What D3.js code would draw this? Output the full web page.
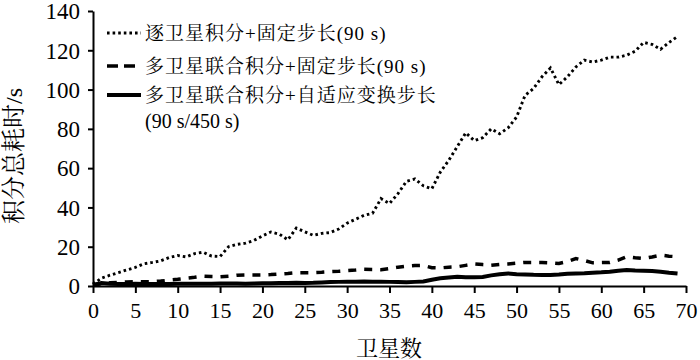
<!DOCTYPE html>
<html>
<head>
<meta charset="utf-8">
<script src="https://cdn.jsdelivr.net/npm/d3@7"></script>
<style>
  body { margin: 0; background: #fff; }
  svg { display: block; }
</style>
</head>
<body>
<svg id="chart" width="700" height="360"></svg>
<script>
// x ticks and y ticks
var xTicks = [0, 5, 10, 15, 20, 25, 30, 35, 40, 45, 50, 55, 60, 65, 70];
var yTicks = [0, 20, 40, 60, 80, 100, 120, 140];

// series values, one per satellite count 0..69
var perSat = [1, 4, 5.5, 6.8, 8.2, 9.5, 11.3, 12, 12.8, 14.5,
  15.5, 14.8, 16.5, 17.2, 15.2, 15, 20, 21.2, 21.8, 23.2,
  25.5, 27.5, 26.4, 23.5, 29.5, 27.6, 25.8, 26.8, 27.2, 29,
  32, 34, 36, 37, 44.5, 42, 47, 53.3, 54.5, 51,
  49.5, 58, 64, 71, 78, 74, 75.5, 80, 77.5, 80.5,
  86, 97, 100.5, 106.5, 111, 102.5, 106.5, 111.5, 115, 114,
  115, 116.5, 116.5, 117.5, 119.5, 124, 123, 120.5, 124, 127];

var jointFixed = [0.5, 1.2, 1.6, 1.9, 2.1, 2.2, 2.2, 2.2, 2.5, 3,
  3.4, 3.9, 4.4, 5, 4.8, 4.7, 5, 5.5, 5.6, 5.6,
  5.6, 5.8, 6.1, 6.4, 6.8, 6.8, 6.8, 7, 7.3, 7.5,
  7.8, 8.1, 8.5, 8.4, 8.3, 8.9, 9.6, 10.1, 10.4, 10.5,
  9.3, 9.2, 9.6, 9.8, 10.5, 11.2, 10.9, 10.6, 11, 11.2,
  11.6, 12, 12, 12, 11.8, 11.5, 12.5, 14, 13, 11.8,
  11.9, 12, 13.2, 14.9, 14.4, 14, 14.8, 15.7, 15.2, 14.9];

var jointAdaptive = [0.5, 1.5, 1.2, 1, 1, 1.2, 1, 1, 1, 1,
  1.2, 1.2, 1.1, 1.2, 1.2, 1.3, 1.3, 1.3, 1.2, 1.3,
  1.4, 1.4, 1.5, 1.5, 1.6, 1.5, 1.6, 1.8, 2, 2.1,
  2.2, 2.2, 2.3, 2.2, 2.2, 2.1, 2, 1.9, 2.1, 2.3,
  3.2, 3.9, 4.3, 4.7, 4.5, 4.4, 4.6, 5.4, 6, 6.4,
  6, 5.9, 5.7, 5.6, 5.6, 5.8, 6.2, 6.4, 6.5, 6.8,
  7, 7.3, 7.8, 8.1, 7.9, 7.8, 7.6, 7.3, 6.8, 6.4];

var seriesNames = ['逐卫星积分+固定步长(90 s)', '多卫星联合积分+固定步长(90 s)', '多卫星联合积分+自适应变换步长'];
var seriesNote = '(90 s/450 s)';
var xTitle = '卫星数';
var yTitle = '积分总耗时/s';

var FONT = "'Liberation Serif', 'Noto Serif CJK SC', 'Noto Sans CJK SC'";

var svg = d3.select('#chart');

var x = d3.scaleLinear().domain([0, 70]).range([93, 686]);
var y = d3.scaleLinear().domain([0, 140]).range([286, 11]);

var xAxis = svg.append('g')
  .attr('transform', 'translate(0,286)')
  .call(d3.axisBottom(x).tickValues(xTicks).tickSize(7).tickSizeOuter(0).tickPadding(9));
xAxis.selectAll('text').style('font-family', FONT).style('font-size', '22px');

var yAxis = svg.append('g')
  .attr('transform', 'translate(93,0)')
  .call(d3.axisLeft(y).tickValues(yTicks).tickSize(5).tickSizeOuter(0).tickPadding(8));
yAxis.selectAll('text').style('font-family', FONT).style('font-size', '23px').attr('dy', '0.34em');

svg.selectAll('.domain, .tick line').attr('stroke', '#000').attr('stroke-width', 2);

var styles = [
  { data: perSat, width: 2.9, dash: '2.6,3', legendDash: '2.6,3' },
  { data: jointFixed, width: 3.5, dash: '8,8', legendDash: '11,6' },
  { data: jointAdaptive, width: 4, dash: null, legendDash: null }
];

var line = d3.line()
  .x((d, i) => x(i))
  .y(d => y(d));

styles.forEach(s => {
  svg.append('path')
    .datum(s.data)
    .attr('fill', 'none')
    .attr('stroke', '#000')
    .attr('stroke-width', s.width)
    .attr('stroke-dasharray', s.dash)
    .attr('d', line);
});

// legend
var legendY = [33, 66, 95];
styles.forEach((s, i) => {
  svg.append('line')
    .attr('x1', 107).attr('x2', 141)
    .attr('y1', legendY[i]).attr('y2', legendY[i])
    .attr('stroke', '#000')
    .attr('stroke-width', s.width)
    .attr('stroke-dasharray', s.legendDash);
  svg.append('text')
    .attr('x', 145)
    .attr('y', legendY[i] + 7)
    .style('font-family', FONT)
    .style('font-size', '19px')
    .style('letter-spacing', '1px')
    .text(seriesNames[i]);
});
svg.append('text')
  .attr('x', 145)
  .attr('y', 128)
  .style('font-family', FONT)
  .style('font-size', '20px')
  .text(seriesNote);

// axis titles
svg.append('text')
  .attr('x', 389)
  .attr('y', 356)
  .attr('text-anchor', 'middle')
  .style('font-family', FONT)
  .style('font-size', '22px')
  .text(xTitle);

svg.append('text')
  .attr('transform', 'translate(22,156) rotate(-90)')
  .attr('text-anchor', 'middle')
  .style('font-family', FONT)
  .style('font-size', '24px')
  .text(yTitle);
</script>
</body>
</html>
